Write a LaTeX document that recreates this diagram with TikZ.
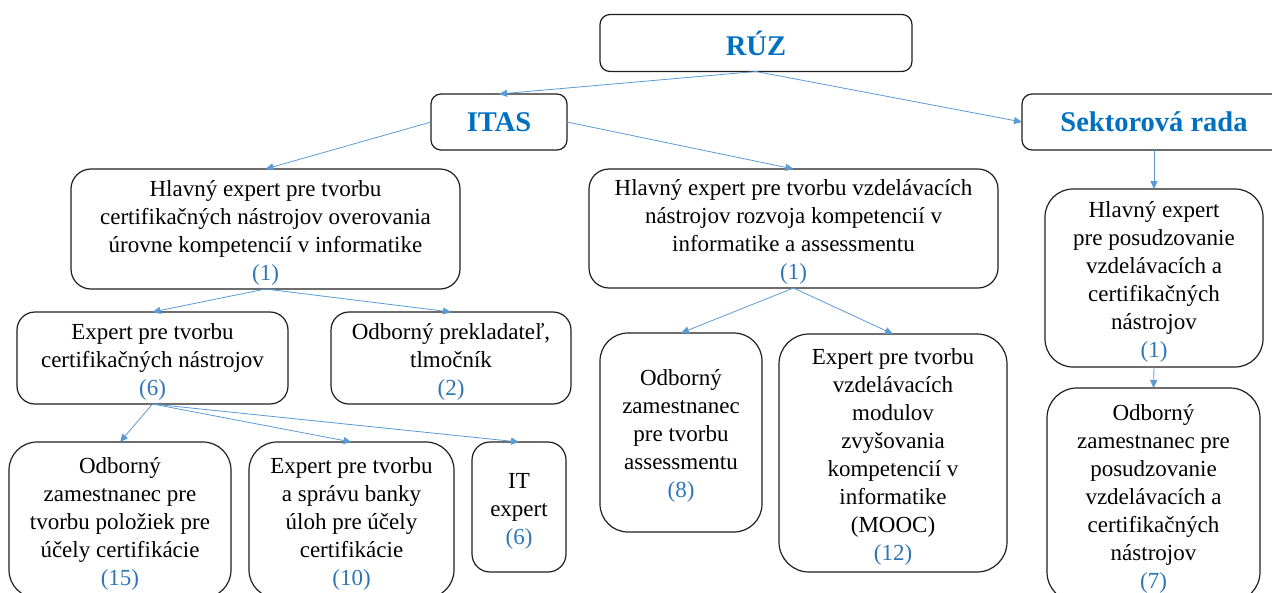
\documentclass[tikz,border=0pt]{standalone}
\usepackage{fontspec}
\setmainfont{Liberation Serif}
\usetikzlibrary{arrows.meta}
\definecolor{numblue}{HTML}{2E75B6}
\definecolor{titleblue}{HTML}{0070C0}
\definecolor{linkblue}{HTML}{5B9BD5}
\definecolor{edge}{HTML}{1F1F1F}
\newcommand{\nb}[1]{\textcolor{numblue}{#1}}
\newcommand{\fl}{\rule{0pt}{23pt}}
\tikzset{
  box/.style={draw=edge, line width=1.2pt, fill=white, inner sep=0pt, outer sep=0pt,
    align=center, font=\fontsize{23}{28}\selectfont},
  titlebox/.style={box, font=\fontsize{28.5}{32}\selectfont\bfseries, text=titleblue},
  conn/.style={draw=linkblue, line width=0.8pt, -{Triangle[length=8pt,width=7pt]}}
}
\begin{document}
\begin{tikzpicture}[x=1pt,y=-1pt]
\useasboundingbox (0,0) rectangle (1272,592);
\clip (0,0) rectangle (1272,592);
\fill[white] (0,0) rectangle (1272,592);

\node[titlebox, rounded corners=10pt, minimum width=312pt, minimum height=57pt] (ruz) at (756,43) {RÚZ};
\node[titlebox, rounded corners=10pt, minimum width=136pt, minimum height=56pt] (itas) at (499,122) {ITAS};
\node[titlebox, rounded corners=10pt, minimum width=264pt, minimum height=56pt] (sek) at (1154,122) {Sektorová rada};

\node[box, rounded corners=20pt, minimum width=389pt, minimum height=120pt] (h1) at (265.5,229)
  {\fl Hlavný expert pre tvorbu\\certifikačných nástrojov overovania\\úrovne kompetencií v informatike\\\nb{(1)}};
\node[box, rounded corners=20pt, minimum width=409pt, minimum height=119pt] (h2) at (793.5,228.5)
  {\fl Hlavný expert pre tvorbu vzdelávacích\\nástrojov rozvoja kompetencií v\\informatike a assessmentu\\\nb{(1)}};
\node[box, rounded corners=28pt, minimum width=218pt, minimum height=178pt] (h3) at (1154,278)
  {\fl Hlavný expert\\pre posudzovanie\\vzdelávacích a\\certifikačných\\nástrojov\\\nb{(1)}};

\node[box, rounded corners=18pt, minimum width=271pt, minimum height=92pt] (e1) at (152.5,358)
  {\fl Expert pre tvorbu\\certifikačných nástrojov\\\nb{(6)}};
\node[box, rounded corners=18pt, minimum width=240pt, minimum height=92pt] (p1) at (451,358)
  {\fl Odborný prekladateľ,\\tlmočník\\\nb{(2)}};

\node[box, rounded corners=28pt, minimum width=222pt, minimum height=156pt] (z1) at (120,520)
  {\fl Odborný\\zamestnanec pre\\tvorbu položiek pre\\účely certifikácie\\\nb{(15)}};
\node[box, rounded corners=28pt, minimum width=205pt, minimum height=156pt] (b1) at (351.5,520)
  {\fl Expert pre tvorbu\\a správu banky\\úloh pre účely\\certifikácie\\\nb{(10)}};
\node[box, rounded corners=18pt, minimum width=94pt, minimum height=130pt] (it) at (519,507)
  {\fl IT\\expert\\\nb{(6)}};

\node[box, rounded corners=28pt, minimum width=162pt, minimum height=199pt] (a2) at (681,432.5)
  {\fl Odborný\\zamestnanec\\pre tvorbu\\assessmentu\\\nb{(8)}};
\node[box, rounded corners=30pt, minimum width=228pt, minimum height=238pt] (m2) at (893,453)
  {\fl Expert pre tvorbu\\vzdelávacích\\modulov\\zvyšovania\\kompetencií v\\informatike\\(MOOC)\\\nb{(12)}};
\node[box, rounded corners=30pt, minimum width=213pt, minimum height=214pt] (o3) at (1153.5,495)
  {\fl Odborný\\zamestnanec pre\\posudzovanie\\vzdelávacích a\\certifikačných\\nástrojov\\\nb{(7)}};

\draw[conn] (ruz.south) -- (itas.north);
\draw[conn] (ruz.south) -- (sek.west);
\draw[conn] (itas.west) -- (h1.north);
\draw[conn] (itas.east) -- (h2.north);
\draw[conn] (sek.south) -- (h3.north);
\draw[conn] (h3.south) -- (o3.north);
\draw[conn] (h1.south) -- (e1.north);
\draw[conn] (h1.south) -- (p1.north);
\draw[conn] (e1.south) -- (z1.north);
\draw[conn] (e1.south) -- (b1.north);
\draw[conn] (e1.south) -- (it.north);
\draw[conn] (h2.south) -- (a2.north);
\draw[conn] (h2.south) -- (m2.north);
\end{tikzpicture}
\end{document}
